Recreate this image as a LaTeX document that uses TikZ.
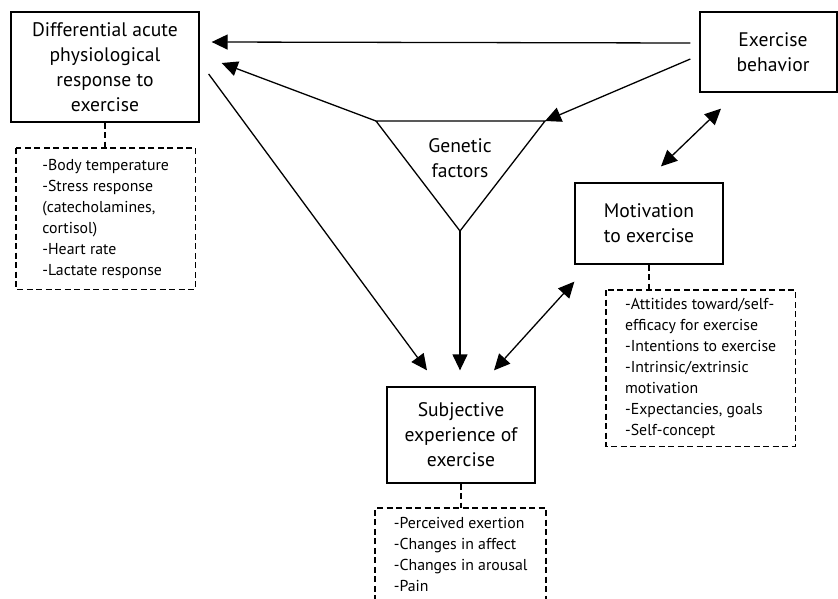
\documentclass[tikz,border=0pt]{standalone}
\usepackage{fontspec}
\setmainfont{PT Sans}
\usetikzlibrary{arrows.meta}
\tikzset{
  tbox/.style={draw, line width=1.3pt, align=center, inner sep=0pt,
    font=\fontsize{19.6}{25}\selectfont},
  ttext/.style={align=center, inner sep=0pt, font=\fontsize{19.6}{25}\selectfont},
  dashbox/.style={line width=1.2pt, dash pattern=on 6pt off 3.5pt},
  ltext/.style={align=left, inner ysep=0pt, font=\fontsize{15.8}{21}\selectfont},
  conn/.style={line width=1.3pt},
  arr/.style={conn, -{Triangle[length=16pt,width=15pt]}},
  dbl/.style={conn, {Triangle[length=16pt,width=15pt]}-{Triangle[length=16pt,width=15pt]}},
}
\begin{document}
\begin{tikzpicture}[x=1pt,y=-1pt]
\useasboundingbox (0,0) rectangle (838,598);
\clip (0,0) rectangle (838,598);
\fill[white] (0,0) rectangle (838,598);

% main boxes
\node[tbox, minimum width=188pt, minimum height=110pt] (diff) at (105,67)
  {Differential acute\\physiological\\response to\\exercise};
\node[tbox, minimum width=137pt, minimum height=80pt] (ex) at (768.5,52)
  {\phantom{x}};
\node[ttext] (extext) at (773,52.5) {Exercise\\behavior};
\node[tbox, minimum width=148pt, minimum height=81pt] (mot) at (649,223.5)
  {Motivation\\to exercise};
\node[tbox, minimum width=148pt, minimum height=96pt] (subj) at (461,435)
  {Subjective\\experience of\\exercise};

% genetic triangle
\coordinate (gtl) at (376,121);
\coordinate (gtr) at (545,121);
\coordinate (gb) at (460,231);
\draw[conn, line join=miter] (gtl) -- (gtr) -- (gb) -- cycle;
\node[ttext] (gen) at (460,158.5) {Genetic\\factors};

% dashed detail boxes
\node[ltext, inner xsep=21pt, minimum width=179pt, minimum height=141pt, anchor=north west] (d1) at (16,148)
  {-Body temperature\\-Stress response\\(catecholamines,\\cortisol)\\-Heart rate\\-Lactate response};
\draw[dashbox] (d1.north west) rectangle (d1.south east);

\node[ltext, inner xsep=15pt, minimum width=189pt, minimum height=156pt, anchor=north west] (d3) at (606,290)
  {-Attitides toward/self-\\efficacy for exercise\\-Intentions to exercise\\-Intrinsic/extrinsic\\motivation\\-Expectancies, goals\\-Self-concept};
\draw[dashbox] (d3.north west) rectangle (d3.south east);

\node[ltext, inner xsep=15pt, minimum width=171pt, anchor=north west] (d4) at (375,517)
  {-Perceived exertion\\-Changes in affect\\-Changes in arousal\\-Pain};
\coordinate (d4tl) at (375,508);
\coordinate (d4tr) at (546,508);
\coordinate (d4bl) at (375,620);
\coordinate (d4br) at (546,620);
\draw[dashbox] (d4bl) -- (d4tl) -- (d4tr) -- (d4br);

% dashed links
\draw[dashbox] (diff.south) -- (diff.south |- d1.north);
\draw[dashbox] (mot.south) -- (mot.south |- d3.north);
\draw[dashbox] (subj.south) -- (subj.south |- d4tl);

% connectors
\draw[arr] ([xshift=-9pt,yshift=9pt]ex.west) -- ([xshift=12pt,yshift=25pt]diff.east);
\draw[arr] ([xshift=-9pt,yshift=-7pt]ex.west) -- (gtr);
\draw[arr] (gtl) -- ([xshift=22pt,yshift=4pt]diff.east);
\draw[arr] ([xshift=9pt,yshift=-7pt]diff.east) -- ([xshift=-34pt,yshift=16pt]subj.north);
\draw[arr] (gb) -- ([yshift=16pt]gb |- subj.north);
\draw[dbl] ([xshift=33pt,yshift=16pt]subj.north) -- ([yshift=-17pt]mot.south west);
\draw[dbl] ([xshift=-47.5pt,yshift=-16pt]ex.south) -- ([xshift=12pt,yshift=16pt]mot.north);
\end{tikzpicture}
\end{document}
